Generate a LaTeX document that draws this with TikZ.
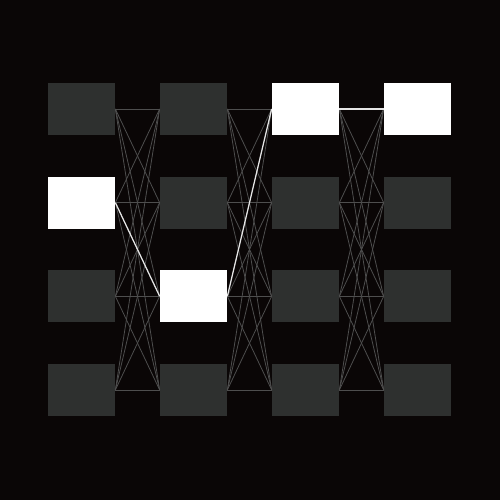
\documentclass[tikz,border=0pt]{standalone}
\usetikzlibrary{positioning}
\definecolor{bgdark}{HTML}{0A0606}
\definecolor{cellgray}{HTML}{2E302F}
\definecolor{linkgray}{HTML}{4E4E4E}
\tikzset{
  cell/.style={rectangle, fill=cellgray, minimum width=1.34cm, minimum height=1.04cm, inner sep=0pt},
  hot/.style={fill=white},
  link/.style={color=linkgray, line width=0.45pt},
  hotlink/.style={color=white!90!black, line width=0.7pt}
}
\begin{document}
\begin{tikzpicture}

  \fill [bgdark] (0,0) rectangle (10,10);
  \useasboundingbox (0,0) rectangle (10,10);

  % grid of cells
  \foreach \c in {1,...,4}{
    \foreach \r in {1,...,4}{
      \node [cell] at ({1.63+(\c-1)*2.24},{7.82-(\r-1)*1.873}) (c\c r\r) {};
    }
  }

  % all links between neighbouring columns
  \foreach \c in {1,2,3}{
    \pgfmathtruncatemacro{\n}{\c+1}
    \foreach \r in {1,...,4}{
      \foreach \s in {1,...,4}{
        \draw [link] (c\c r\r.east) -- (c\n r\s.west);
      }
    }
  }

  % best path
  \draw [hotlink] (c1r2.east) -- (c2r3.west);
  \draw [hotlink] (c2r3.east) -- (c3r1.west);
  \draw [hotlink] (c3r1.east) -- (c4r1.west);

  \node [cell,hot] at (c1r2) {};
  \node [cell,hot] at (c2r3) {};
  \node [cell,hot] at (c3r1) {};
  \node [cell,hot] at (c4r1) {};

\end{tikzpicture}
\end{document}
